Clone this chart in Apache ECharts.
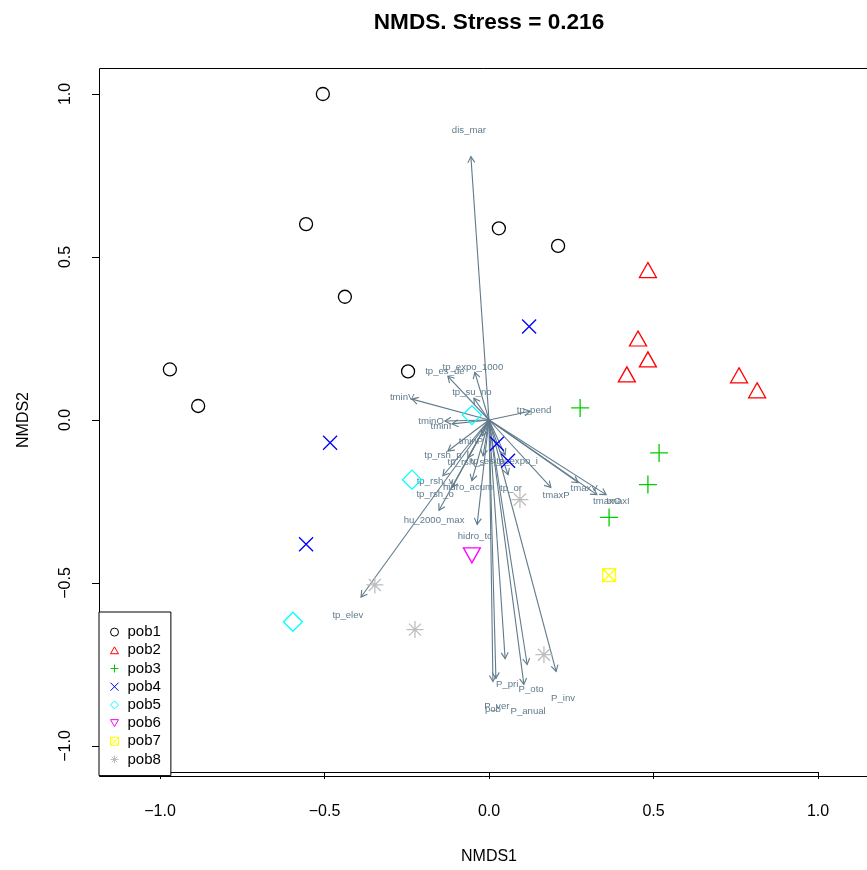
<!DOCTYPE html>
<html>
<head>
<meta charset="utf-8">
<script src="https://cdn.jsdelivr.net/npm/echarts@6/dist/echarts.min.js"></script>
<style>
  html, body { margin: 0; padding: 0; background: #ffffff; }
  #chart { width: 867px; height: 870px; }
</style>
</head>
<body>
<div id="chart"></div>
<script>
// NMDS site scores per population
const groups = ['pob1', 'pob2', 'pob3', 'pob4', 'pob5', 'pob6', 'pob7', 'pob8'];
const pob1 = [[-0.505, 1.000], [-0.556, 0.601], [-0.438, 0.378], [-0.970, 0.155],
              [-0.884, 0.043], [-0.246, 0.149], [0.030, 0.588], [0.210, 0.534]];
const pob2 = [[0.483, 0.460], [0.453, 0.250], [0.483, 0.186], [0.419, 0.140],
              [0.760, 0.137], [0.815, 0.091]];
const pob3 = [[0.277, 0.037], [0.517, -0.101], [0.483, -0.198], [0.365, -0.299]];
const pob4 = [[0.122, 0.287], [-0.483, -0.070], [-0.556, -0.381], [0.024, -0.073], [0.058, -0.125]];
const pob5 = [[-0.052, 0.015], [-0.234, -0.183], [-0.596, -0.619]];
const pob6 = [[-0.052, -0.415]];
const pob7 = [[0.365, -0.476]];
const pob8 = [[0.094, -0.244], [-0.347, -0.506], [-0.225, -0.643], [0.167, -0.720]];

// Fitted environmental vectors (envfit): arrow tips and label anchors
const vectorNames = ['dis_mar', 'tp_expo_1000', 'tp_es_de', 'tp_su_no', 'tminV', 'tp_pend',
  'tminO', 'tminI', 'tminP', 'tp_rsh_p', 'tp_rsh_v', 'tp_rsh_o', 'hidro_acum', 'tp_or',
  'tmaxP', 'tmaxV', 'tmaxO', 'tmaxI', 'tp_rsh_s', 'tp_es_so', 'tp_expo_i', 'hu_2000_max',
  'hidro_tc', 'tp_elev', 'P_pri', 'P_oto', 'P_anual', 'P_inv', 'P_ver', 'pob'];
const vectorTips = [[-0.055, 0.808], [-0.043, 0.146], [-0.125, 0.134], [-0.046, 0.067],
  [-0.234, 0.064], [0.125, 0.027], [-0.134, -0.003], [-0.112, -0.012], [-0.021, -0.049],
  [-0.125, -0.095], [-0.140, -0.171], [-0.112, -0.207], [-0.052, -0.186], [0.058, -0.168],
  [0.188, -0.207], [0.271, -0.192], [0.328, -0.229], [0.356, -0.229], [-0.064, -0.116],
  [-0.018, -0.110], [0.049, -0.107], [-0.152, -0.277], [-0.036, -0.320], [-0.389, -0.543],
  [0.049, -0.732], [0.116, -0.750], [0.106, -0.811], [0.204, -0.771], [0.021, -0.793],
  [0.012, -0.802]];
const vectorLabels = [[-0.061, 0.890], [-0.049, 0.162], [-0.134, 0.149], [-0.052, 0.085],
  [-0.264, 0.070], [0.137, 0.030], [-0.176, -0.003], [-0.146, -0.018], [-0.055, -0.064],
  [-0.140, -0.107], [-0.164, -0.189], [-0.164, -0.229], [-0.064, -0.207], [0.067, -0.210],
  [0.204, -0.232], [0.289, -0.210], [0.359, -0.250], [0.392, -0.250], [-0.070, -0.131],
  [0.003, -0.128], [0.085, -0.128], [-0.167, -0.308], [-0.043, -0.357], [-0.429, -0.598],
  [0.055, -0.811], [0.128, -0.826], [0.119, -0.893], [0.225, -0.854], [0.024, -0.878],
  [0.012, -0.887]];

const axisTickValues = [-1, -0.5, 0, 0.5, 1];

const FONT = '"Liberation Sans", Arial, Helvetica, sans-serif';
const VEC_COLOR = '#607B8B';

// plotting symbols, drawn as outlines
const SYM = {
  circle: 'circle',
  triUp: 'path://M5,0L10,8.66L0,8.66Z',
  plus: 'path://M0,5L10,5M5,0L5,10',
  cross: 'path://M0,0L10,10M0,10L10,0',
  diamond: 'path://M5,0L10,5L5,10L0,5Z',
  triDown: 'path://M0,0L10,0L5,8.66Z',
  squareX: 'path://M0,0L10,0L10,10L0,10ZM0,0L10,10M10,0L0,10',
  star: 'path://M0,5L10,5M5,0L5,10M1.46,1.46L8.54,8.54M1.46,8.54L8.54,1.46'
};

const groupData = [pob1, pob2, pob3, pob4, pob5, pob6, pob7, pob8];
const groupColors = ['#000000', '#FF0000', '#00CD00', '#0000FF', '#00FFFF', '#FF00FF', '#FFFF00', '#BEBEBE'];
const groupSymbols = [SYM.circle, SYM.triUp, SYM.plus, SYM.cross, SYM.diamond, SYM.triDown, SYM.squareX, SYM.star];
const groupSizes = [13, [17, 15], 18, 14, 19, [17, 15], 13, 17];

const fmt = v => (v < 0 ? '\u2212' : '') + Math.abs(v).toFixed(1);

const pointSeries = groups.map((g, i) => ({
  name: g,
  type: 'scatter',
  data: groupData[i],
  symbol: groupSymbols[i],
  symbolSize: groupSizes[i],
  symbolKeepAspect: false,
  clip: false,
  silent: true,
  z: 5,
  itemStyle: { color: 'rgba(0,0,0,0)', borderColor: groupColors[i], borderWidth: 1.3, opacity: 1 }
}));

const arrowSeries = {
  type: 'custom',
  name: 'vectors',
  coordinateSystem: 'cartesian2d',
  silent: true,
  clip: false,
  z: 3,
  data: vectorTips,
  renderItem(params, api) {
    const o = api.coord([0, 0]);
    const t = api.coord([api.value(0), api.value(1)]);
    const ang = Math.atan2(t[1] - o[1], t[0] - o[0]);
    const L = 7, a = Math.PI / 6;
    const h1 = [t[0] - L * Math.cos(ang - a), t[1] - L * Math.sin(ang - a)];
    const h2 = [t[0] - L * Math.cos(ang + a), t[1] - L * Math.sin(ang + a)];
    return {
      type: 'group',
      children: [
        { type: 'line', shape: { x1: o[0], y1: o[1], x2: t[0], y2: t[1] },
          style: { stroke: VEC_COLOR, lineWidth: 1.1 } },
        { type: 'polyline', shape: { points: [h1, t, h2] },
          style: { stroke: VEC_COLOR, lineWidth: 1.1, fill: null } }
      ]
    };
  }
};

const labelSeries = {
  type: 'custom',
  name: 'vectorLabels',
  coordinateSystem: 'cartesian2d',
  silent: true,
  clip: false,
  z: 4,
  data: vectorLabels,
  renderItem(params, api) {
    const p = api.coord([api.value(0), api.value(1)]);
    return {
      type: 'text',
      x: p[0], y: p[1],
      style: {
        text: vectorNames[params.dataIndex],
        fill: VEC_COLOR,
        font: '9.6px ' + FONT,
        align: 'center',
        verticalAlign: 'middle'
      }
    };
  }
};

const chart = echarts.init(document.getElementById('chart'), null, { renderer: 'canvas' });

chart.setOption({
  animation: false,
  backgroundColor: '#ffffff',
  title: {
    text: 'NMDS. Stress = 0.216',
    left: 484,
    top: 6,
    textAlign: 'center',
    textStyle: { fontFamily: FONT, fontSize: 22.6, fontWeight: 'bold', color: '#000' }
  },
  grid: { left: 160, top: 94, width: 658, height: 656, show: false },
  xAxis: {
    type: 'value', min: -1, max: 1, interval: 0.5, offset: 26,
    axisLine: { show: true, onZero: false, lineStyle: { color: '#000', width: 1 } },
    axisTick: { show: true, inside: false, length: 7, lineStyle: { color: '#000', width: 1 } },
    axisLabel: { margin: 32, fontFamily: FONT, fontSize: 16, color: '#000', formatter: fmt },
    splitLine: { show: false },
    name: 'NMDS1', nameLocation: 'middle', nameGap: 77,
    nameTextStyle: { fontFamily: FONT, fontSize: 16, color: '#000' }
  },
  yAxis: {
    type: 'value', min: -1, max: 1, interval: 0.5, offset: 61,
    axisLine: { show: true, onZero: false, lineStyle: { color: '#000', width: 1 } },
    axisTick: { show: true, inside: false, length: 7, lineStyle: { color: '#000', width: 1 } },
    axisLabel: { margin: 25, rotate: 90, fontFamily: FONT, fontSize: 16, color: '#000', formatter: fmt },
    splitLine: { show: false },
    name: 'NMDS2', nameLocation: 'middle', nameGap: 67, nameRotate: 90,
    nameTextStyle: { fontFamily: FONT, fontSize: 16, color: '#000' }
  },
  legend: {
    data: groups,
    orient: 'vertical',
    left: 99,
    top: 612,
    padding: [11, 10, 7, 11],
    itemWidth: 8,
    itemHeight: 8,
    itemGap: 0,
    borderColor: '#000',
    borderWidth: 1,
    borderRadius: 0,
    backgroundColor: '#ffffff',
    selectedMode: false,
    z: 10,
    itemStyle: { borderWidth: 1 },
    textStyle: { fontFamily: FONT, fontSize: 15, color: '#000', lineHeight: 18.2, padding: [0, 0, 0, 4] }
  },
  graphic: [{
    type: 'rect',
    silent: true,
    z: 1,
    shape: { x: 99.5, y: 68.5, width: 780, height: 708 },
    style: { fill: null, stroke: '#000', lineWidth: 1 }
  }],
  series: [arrowSeries, labelSeries].concat(pointSeries)
});
</script>
</body>
</html>
